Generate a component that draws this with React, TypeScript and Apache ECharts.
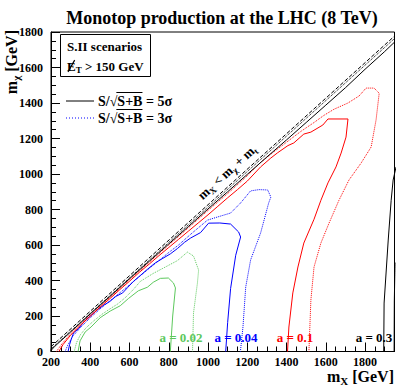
import React, { useEffect, useRef } from 'react';
import * as echarts from 'echarts';

const F = 'Liberation Serif';

// axis ranges (GeV)
const X_RANGE = [200, 1950];
const Y_RANGE = [0, 1800];

// kinematic limit m_X = m_chi + m_t
const kinematic = [[200, 27], [1950, 1777]];

// a = 0.3
const black5 = [[195, 0], [220, 30], [300, 110], [400, 212], [500, 310], [600, 410], [700, 508], [800, 606], [900, 704], [1000, 803], [1100, 900], [1200, 998], [1300, 1096], [1400, 1192], [1500, 1290], [1600, 1388], [1700, 1486], [1800, 1590], [1900, 1690], [1950, 1743]];
const black5Right = [[1958, 1040], [1943, 966], [1933, 852], [1918, 628], [1897, 273], [1895, 0]];
const black3 = [[190, 5], [1950, 1763]];
const black3Right = [[1946, 0], [1948, 280], [1955, 500]];

// a = 0.1
const red5 = [[240, 0], [262, 40], [300, 92], [350, 148], [400, 198], [450, 250], [500, 298], [550, 348], [600, 396], [650, 446], [700, 492], [750, 540], [800, 586], [850, 632], [900, 678], [950, 724], [1000, 770], [1050, 818], [1100, 866], [1150, 912], [1200, 960], [1268, 1040], [1320, 1090], [1355, 1120], [1407, 1160], [1437, 1175], [1488, 1225], [1524, 1236], [1585, 1276], [1611, 1310], [1713, 1310], [1703, 1208], [1678, 1118], [1652, 1040], [1611, 950], [1575, 852], [1540, 745], [1488, 611], [1458, 476], [1432, 330], [1412, 138], [1405, 0]];
const red3 = [[228, 0], [250, 35], [300, 100], [350, 155], [400, 205], [450, 256], [500, 305], [550, 355], [600, 405], [700, 502], [800, 600], [900, 697], [1000, 795], [1100, 890], [1200, 990], [1268, 1065], [1335, 1125], [1407, 1185], [1473, 1240], [1540, 1290], [1590, 1330], [1642, 1365], [1713, 1400], [1770, 1440], [1805, 1484], [1846, 1484], [1872, 1455], [1856, 1304], [1831, 1152], [1780, 1062], [1718, 966], [1667, 852], [1616, 722], [1575, 611], [1540, 476], [1524, 290], [1514, 0]];

// a = 0.04
const blue5 = [[287, 0], [295, 40], [302, 65], [315, 105], [340, 128], [370, 170], [400, 200], [440, 238], [470, 262], [500, 282], [530, 310], [565, 330], [590, 360], [620, 395], [655, 428], [690, 462], [732, 500], [770, 525], [808, 550], [844, 580], [880, 615], [911, 639], [962, 670], [1003, 723], [1060, 724], [1115, 718], [1156, 673], [1166, 645], [1141, 542], [1115, 355], [1100, 164], [1090, 0]];
const blue3 = [[272, 0], [285, 35], [310, 85], [350, 135], [400, 190], [450, 240], [500, 285], [550, 330], [600, 375], [650, 422], [700, 468], [750, 512], [800, 558], [850, 600], [911, 660], [997, 740], [1049, 758], [1115, 780], [1166, 837], [1217, 905], [1260, 912], [1304, 910], [1320, 870], [1309, 837], [1268, 668], [1217, 516], [1192, 363], [1178, 138], [1165, 0]];

// a = 0.02
const green5 = [[338, 0], [348, 60], [374, 110], [404, 138], [450, 190], [502, 228], [553, 258], [594, 298], [645, 342], [691, 362], [721, 390], [757, 412], [798, 414], [824, 386], [834, 358], [820, 200], [808, 0]];
const green3 = [[318, 0], [330, 50], [350, 95], [380, 135], [420, 175], [460, 210], [500, 240], [540, 268], [580, 305], [620, 350], [655, 395], [721, 440], [793, 482], [844, 512], [895, 560], [926, 538], [952, 459], [946, 386], [926, 217], [921, 0]];

const GREEN = '#5cc85c';
const BLUE = '#0000ff';
const RED = '#ff0000';
const BLACK = '#000000';

const aLabels = ['a = 0.02', 'a = 0.04', 'a = 0.1', 'a = 0.3'];
const aColors = [GREEN, BLUE, RED, BLACK];

let ctx: CanvasRenderingContext2D | null = null;
function tw(s: string, size: number, bold = true) {
  if (!ctx) ctx = document.createElement('canvas').getContext('2d');
  if (!ctx) return s.length * size * 0.5;
  ctx.font = `${bold ? 'bold ' : ''}${size}px "${F}"`;
  return ctx.measureText(s).width;
}

type Part = { t: string; sub?: boolean; slash?: boolean };
function latex(parts: Part[], x: number, y: number, size: number, color: string, rotation = 0, align: 'left' | 'center' | 'right' = 'left') {
  const subSize = Math.round(size * 0.7);
  const widths = parts.map((p) => tw(p.t, p.sub ? subSize : size));
  const total = widths.reduce((a, b) => a + b, 0);
  let cx = align === 'left' ? 0 : align === 'center' ? -total / 2 : -total;
  const children: any[] = [];
  parts.forEach((p, i) => {
    children.push({
      type: 'text',
      x: cx,
      y: p.sub ? size * 0.32 : 0,
      style: {
        text: p.t,
        fontSize: p.sub ? subSize : size,
        fontWeight: 'bold',
        fontFamily: F,
        fill: color,
        align: 'left',
        verticalAlign: 'middle',
      },
    });
    if (p.slash) {
      children.push({
        type: 'line',
        shape: { x1: cx + 1, y1: size * 0.45, x2: cx + widths[i] - 1, y2: -size * 0.45 },
        style: { stroke: color, lineWidth: 1.2 },
      });
    }
    cx += widths[i];
  });
  return { type: 'group', x, y, rotation, children };
}

function sigmaLegend(x: number, y: number, label: string) {
  const size = 14;
  const w1 = tw('S/', size);
  const w2 = tw('\u221A', size);
  const w3 = tw('S+B', size);
  return {
    type: 'group',
    x,
    y,
    children: [
      { type: 'text', x: 0, y: 0, style: { text: 'S/\u221AS+B = ' + label, fontSize: size, fontWeight: 'bold', fontFamily: F, fill: BLACK, align: 'left', verticalAlign: 'middle' } },
      { type: 'line', shape: { x1: w1 + w2 - 1, y1: -8.5, x2: w1 + w2 + w3, y2: -8.5 }, style: { stroke: BLACK, lineWidth: 1 } },
    ],
  };
}

function lineSeries(data: number[][], color: string, type: 'solid' | 'dotted' | 'dashed', z = 2) {
  return {
    type: 'line',
    data,
    showSymbol: false,
    symbol: 'none',
    silent: true,
    clip: true,
    z,
    lineStyle: { color, width: 1, type },
  };
}

export default function App() {
  const ref = useRef<HTMLDivElement>(null);
  useEffect(() => {
    if (!ref.current) return;
    const chart = echarts.init(ref.current, null, { renderer: 'svg' });
    const axisLabel = { fontFamily: F, fontWeight: 'bold', fontSize: 12, color: BLACK };
    const aPos = [181, 236, 295, 374];
    chart.setOption({
      animation: false,
      backgroundColor: '#fff',
      grid: { left: 51, right: 12.5, top: 32, bottom: 35.5, show: true, borderColor: BLACK, borderWidth: 1, backgroundColor: 'transparent', outerBoundsMode: 'none' },
      xAxis: {
        type: 'value', min: X_RANGE[0], max: X_RANGE[1], interval: 200,
        axisLine: { show: true, lineStyle: { color: BLACK, width: 1 } },
        axisTick: { show: true, inside: true, length: 9, lineStyle: { color: BLACK } },
        minorTick: { show: true, splitNumber: 4, length: 5, lineStyle: { color: BLACK } },
        splitLine: { show: false },
        axisLabel: { ...axisLabel, margin: 4, showMaxLabel: false, formatter: (v: number) => (v % 200 === 0 ? String(v) : '') },
      },
      yAxis: {
        type: 'value', min: Y_RANGE[0], max: Y_RANGE[1], interval: 200,
        axisLine: { show: true, lineStyle: { color: BLACK, width: 1 } },
        axisTick: { show: true, inside: true, length: 9, lineStyle: { color: BLACK } },
        minorTick: { show: true, splitNumber: 4, length: 5, lineStyle: { color: BLACK } },
        splitLine: { show: false },
        axisLabel: { ...axisLabel, margin: 8, formatter: (v: number) => String(v) },
      },
      series: [
        lineSeries(green3, GREEN, 'dotted'),
        lineSeries(green5, GREEN, 'solid'),
        lineSeries(blue3, BLUE, 'dotted'),
        lineSeries(blue5, BLUE, 'solid'),
        lineSeries(red3, RED, 'dotted'),
        lineSeries(red5, RED, 'solid'),
        lineSeries(black3, BLACK, 'dotted'),
        lineSeries(black3Right, BLACK, 'dotted'),
        lineSeries(black5, BLACK, 'solid'),
        lineSeries(black5Right, BLACK, 'solid'),
        lineSeries(kinematic, BLACK, 'dashed', 3),
      ],
      graphic: [
        { type: 'rect', shape: { x: 60.5, y: 34.5, width: 90, height: 42 }, style: { fill: '#fff', stroke: BLACK, lineWidth: 1 } },
        { type: 'text', x: 222, y: 18, style: { text: 'Monotop production at the LHC (8 TeV)', fontSize: 18, fontWeight: 'bold', fontFamily: F, fill: BLACK, align: 'center', verticalAlign: 'middle' } },
        latex([{ t: 'm' }, { t: 'X', sub: true }, { t: ' [GeV]' }], 394, 376, 16, BLACK, 0, 'right'),
        latex([{ t: 'm' }, { t: '\u03C7', sub: true }, { t: ' [GeV]' }], 11, 30, 16, BLACK, Math.PI / 2, 'right'),
        { type: 'text', x: 67, y: 46, style: { text: 'S.II scenarios', fontSize: 13, fontWeight: 'bold', fontFamily: F, fill: BLACK, align: 'left', verticalAlign: 'middle' } },
        latex([{ t: 'E', slash: true }, { t: 'T', sub: true }, { t: ' > 150 GeV' }], 67, 66, 13, BLACK),
        { type: 'line', shape: { x1: 66, y1: 101, x2: 94, y2: 101 }, style: { stroke: BLACK, lineWidth: 1 } },
        sigmaLegend(98, 101, '5\u03C3'),
        { type: 'line', shape: { x1: 66, y1: 118, x2: 94, y2: 118 }, style: { stroke: BLUE, lineWidth: 1, lineDash: [1, 2] } },
        sigmaLegend(98, 118, '3\u03C3'),
        latex([{ t: 'm' }, { t: 'X', sub: true }, { t: ' < m' }, { t: '\u03C7', sub: true }, { t: ' + m' }, { t: 't', sub: true }], 227, 172, 13, BLACK, 0.737, 'center'),
        ...aLabels.map((t, i) => ({ type: 'text', x: aPos[i], y: 337, style: { text: t, fontSize: 13, fontWeight: 'bold', fontFamily: F, fill: aColors[i], align: 'center', verticalAlign: 'middle' } })),
      ],
    });
    return () => chart.dispose();
  }, []);
  return <div ref={ref} style={{ position: 'fixed', left: 0, top: 0, width: 407, height: 387 }} />;
}
